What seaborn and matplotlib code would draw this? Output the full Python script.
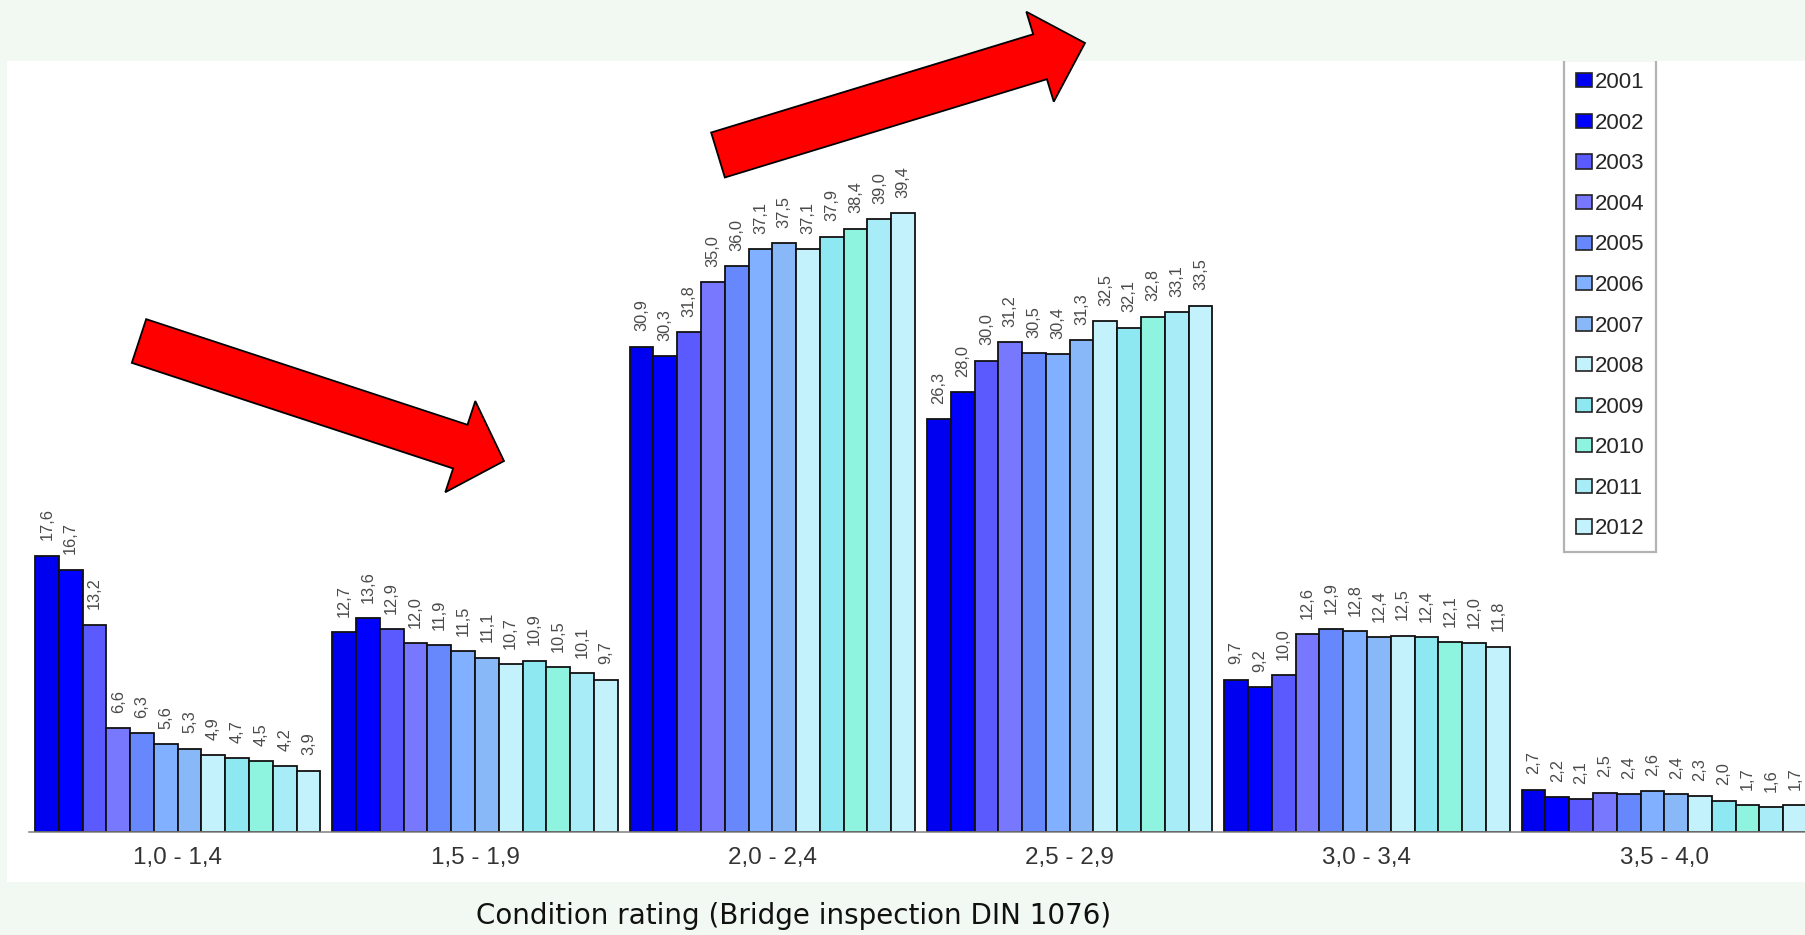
import numpy as np
import pandas as pd
import matplotlib
matplotlib.use("Agg")
import matplotlib.pyplot as plt
import seaborn as sns
from matplotlib.patches import Polygon, Rectangle, Patch

# ---------------- data ----------------
categories = ["1,0 - 1,4", "1,5 - 1,9", "2,0 - 2,4", "2,5 - 2,9", "3,0 - 3,4", "3,5 - 4,0"]
years = ["2001", "2002", "2003", "2004", "2005", "2006",
         "2007", "2008", "2009", "2010", "2011", "2012"]
vals_10_14 = [17.6, 16.7, 13.2, 6.6, 6.3, 5.6, 5.3, 4.9, 4.7, 4.5, 4.2, 3.9]
vals_15_19 = [12.7, 13.6, 12.9, 12.0, 11.9, 11.5, 11.1, 10.7, 10.9, 10.5, 10.1, 9.7]
vals_20_24 = [30.9, 30.3, 31.8, 35.0, 36.0, 37.1, 37.5, 37.1, 37.9, 38.4, 39.0, 39.4]
vals_25_29 = [26.3, 28.0, 30.0, 31.2, 30.5, 30.4, 31.3, 32.5, 32.1, 32.8, 33.1, 33.5]
vals_30_34 = [9.7, 9.2, 10.0, 12.6, 12.9, 12.8, 12.4, 12.5, 12.4, 12.1, 12.0, 11.8]
vals_35_40 = [2.7, 2.2, 2.1, 2.5, 2.4, 2.6, 2.4, 2.3, 2.0, 1.7, 1.6, 1.7]
year_colors = ["#0000f0", "#0000ff", "#5a5aff", "#7878ff", "#6688fc", "#80b0ff",
               "#88b8f8", "#c4f2fc", "#8ee8f2", "#8ef4e0", "#a8ecf8", "#c4f2fc"]
x_title = "Condition rating (Bridge inspection DIN 1076)"

all_vals = [vals_10_14, vals_15_19, vals_20_24, vals_25_29, vals_30_34, vals_35_40]
rows = []
for cat, vals in zip(categories, all_vals):
    for yr, v in zip(years, vals):
        rows.append({"rating": cat, "year": yr, "value": v})
df = pd.DataFrame(rows)

# ---------------- figure ----------------
sns.set_style("white")
plt.rcParams["font.family"] = ["Liberation Sans", "DejaVu Sans"]

W, H = 1806, 935
BG = "#f2f9f2"
fig = plt.figure(figsize=(W / 100, H / 100), dpi=100, facecolor=BG)

def fx(x):
    return x / W

def fy(y):
    return 1 - y / H

# white chart panel
fig.add_artist(Rectangle((fx(7), fy(882)), 1.0, fy(61) - fy(882),
                         transform=fig.transFigure, facecolor="white",
                         edgecolor="none", zorder=-1))

ax = fig.add_axes([fx(29), fy(832), (1813 - 29) / W, (832 - 61) / H])
ax.patch.set_alpha(0)

sns.barplot(data=df, x="rating", y="value", hue="year", order=categories,
            hue_order=years, palette=year_colors, saturation=1, width=0.96,
            gap=0, edgecolor="#111111", linewidth=1.3, errorbar=None, ax=ax)

for cont, yr in zip(ax.containers, years):
    labels = [f"{b.get_height():.1f}".replace(".", ",") for b in cont]
    ax.bar_label(cont, labels=labels, padding=11, rotation=90,
                 fontsize=11.8, color="#4a4a4a")

ax.set_xlim(-0.5, 5.5)
ax.set_ylim(0, 49.08)
ax.set_yticks([])
ax.set_xlabel("")
ax.set_ylabel("")
for s in ["left", "top", "right"]:
    ax.spines[s].set_visible(False)
ax.spines["bottom"].set_color("#808080")
ax.spines["bottom"].set_linewidth(1.1)
ax.set_xticks(range(len(categories)))
ax.set_xticklabels(categories, fontsize=17.5, color="#333333")
ax.tick_params(axis="x", which="major", length=0, pad=11)
ax.set_xticks(np.arange(-0.5, len(categories), 1.0), minor=True)
ax.tick_params(axis="x", which="minor", length=7, color="#999999", width=1)

handles = [Patch(facecolor=c, edgecolor="#222222", linewidth=1.2) for c in year_colors]
leg = ax.legend(handles, years, loc="upper left",
                bbox_to_anchor=(fx(1564), fy(60)), bbox_transform=fig.transFigure,
                fontsize=16, frameon=True, fancybox=False, edgecolor="#a0a0a0",
                handlelength=0.7, handleheight=0.6, handletextpad=0.12,
                labelspacing=0.88, borderpad=0.55, borderaxespad=0)
leg.get_frame().set_linewidth(1.6)

# green top band covering the legend top
fig.add_artist(Rectangle((0, fy(61)), 1.0, 1 - fy(61), transform=fig.transFigure,
                         facecolor=BG, edgecolor="none", zorder=1))


def block_arrow(tail, tip, shaft_w, head_w, head_len):
    tail = np.array(tail, float)
    tip = np.array(tip, float)
    d = tip - tail
    d /= np.linalg.norm(d)
    n = np.array([-d[1], d[0]])
    j = tip - d * head_len
    pts = [tail + n * shaft_w / 2, j + n * shaft_w / 2, j + n * head_w / 2, tip,
           j - n * head_w / 2, j - n * shaft_w / 2, tail - n * shaft_w / 2]
    pts = [(fx(p[0]), fy(p[1])) for p in pts]
    fig.add_artist(Polygon(pts, closed=True, transform=fig.transFigure,
                           facecolor="#ff0000", edgecolor="black",
                           linewidth=1.3, zorder=3))

block_arrow((139, 341), (504, 461), 46, 96, 46)
block_arrow((718, 155), (1085, 43), 47, 94, 47)

fig.text(fx(794), fy(916), x_title, fontsize=20, family="DejaVu Sans",
         ha="center", va="center", color="#111111")

fig.savefig("out.png", dpi=100, facecolor=BG)
